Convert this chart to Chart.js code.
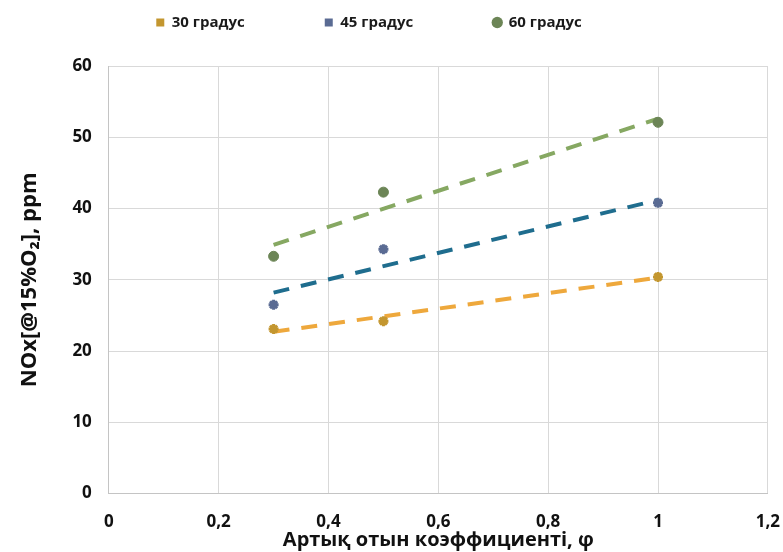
<!DOCTYPE html>
<html>
<head>
<meta charset="utf-8">
<script src="https://cdn.jsdelivr.net/npm/chart.js@4"></script>
<style>
    html, body { margin: 0; padding: 0; background: #fff; }
    #wrap { width: 783px; height: 552px; }
</style>
</head>
<body>
<div id="wrap"><canvas id="nox-plot"></canvas></div>
<script>
// values
const phi = [0.3, 0.5, 1];
const nox30 = [23.1, 24.2, 30.4];
const nox45 = [26.5, 34.3, 40.8];
const nox60 = [33.3, 42.3, 52.1];

// dashed trend lines, end points at phi = 0.3 and phi = 1
const trendX = [0.3, 1];
const trend30 = [22.7, 30.3];
const trend45 = [28.2, 41.2];
const trend60 = [34.9, 52.6];

const seriesNames = ['30 градус', '45 градус', '60 градус'];
const xTicks = [0, 0.2, 0.4, 0.6, 0.8, 1, 1.2];

function points(xs, ys) {
    let out = [];
    for (let i = 0; i < xs.length; i++) {
        out.push({ x: xs[i], y: ys[i] });
    }
    return out;
}

function commaNum(v) {
    return (Math.round(v * 10) / 10).toString().replace('.', ',');
}

const markerColors = ['#c3962f', '#5a6b93', '#6c8556'];
const lineColors = ['#eea83c', '#1f6d8e', '#86a862'];
const legendStyles = ['rect', 'rect', 'circle'];

const legendPad = 80;

// wide gaps between legend items, legend kept near the top edge
const legendPlace = {
    id: 'legendPlace',
    beforeInit(chart) {
        const fit = chart.legend.fit;
        chart.legend.fit = function () {
            fit.bind(chart.legend)();
            this.height = 62;
        };
    },
    afterLayout(chart) {
        const lg = chart.legend;
        const dx = -30;
        // only the top moves, the bottom stays so the clip box still holds the items
        lg.top += 11 - legendPad;
        lg.left += dx;
        lg.right += dx;
    }
};

const ctx = document.getElementById('nox-plot').getContext('2d');
const ch = new Chart(ctx, {
    type: 'scatter',
    data: {
        datasets: [
            {
                label: seriesNames[0],
                data: points(phi, nox30),
                pointStyle: 'star',
                radius: 5,
                borderWidth: 3,
                borderColor: markerColors[0],
                backgroundColor: markerColors[0]
            },
            {
                label: seriesNames[1],
                data: points(phi, nox45),
                pointStyle: 'star',
                radius: 5,
                borderWidth: 3,
                borderColor: markerColors[1],
                backgroundColor: markerColors[1]
            },
            {
                label: seriesNames[2],
                data: points(phi, nox60),
                pointStyle: 'circle',
                radius: 5,
                borderWidth: 1,
                borderColor: markerColors[2],
                backgroundColor: markerColors[2]
            },
            {
                label: 'trend30',
                data: points(trendX, trend30),
                showLine: true,
                pointRadius: 0,
                borderColor: lineColors[0],
                borderWidth: 4,
                borderDash: [16, 12]
            },
            {
                label: 'trend45',
                data: points(trendX, trend45),
                showLine: true,
                pointRadius: 0,
                borderColor: lineColors[1],
                borderWidth: 4,
                borderDash: [16, 12]
            },
            {
                label: 'trend60',
                data: points(trendX, trend60),
                showLine: true,
                pointRadius: 0,
                borderColor: lineColors[2],
                borderWidth: 4,
                borderDash: [16, 12]
            }
        ]
    },
    options: {
        responsive: true,
        maintainAspectRatio: false,
        animation: false,
        layout: {
            padding: { top: 4, left: 17, right: 2, bottom: 0 }
        },
        plugins: {
            tooltip: { enabled: false },
            legend: {
                position: 'top',
                labels: {
                    usePointStyle: true,
                    boxWidth: 8,
                    boxHeight: 8,
                    padding: legendPad,
                    color: '#1a1a1a',
                    font: { family: 'Open Sans', size: 15, weight: 'bold' },
                    generateLabels(chart) {
                        const items = Chart.defaults.plugins.legend.labels.generateLabels(chart);
                        return items.filter(it => it.datasetIndex < 3).map(it => {
                            it.pointStyle = legendStyles[it.datasetIndex];
                            it.fillStyle = markerColors[it.datasetIndex];
                            it.strokeStyle = markerColors[it.datasetIndex];
                            it.lineWidth = 0;
                            return it;
                        });
                    }
                }
            }
        },
        scales: {
            x: {
                type: 'linear',
                min: 0,
                max: 1.2,
                afterBuildTicks(axis) {
                    axis.ticks = xTicks.map(v => ({ value: v }));
                },
                grid: { color: '#d9d9d9', drawTicks: true, tickLength: 15, tickColor: 'rgba(0,0,0,0)' },
                border: { color: '#c4c4c4', width: 1 },
                ticks: {
                    padding: 3,
                    color: '#111',
                    font: { family: 'Open Sans', size: 17, weight: 'bold' },
                    callback: v => commaNum(v)
                },
                title: {
                    display: true,
                    text: 'Артық отын коэффициенті, φ',
                    color: '#111',
                    padding: { top: -7, bottom: 0 },
                    font: { family: 'Open Sans', size: 20, weight: 'bold' }
                }
            },
            y: {
                min: 0,
                max: 60,
                ticks: {
                    stepSize: 10,
                    padding: 17,
                    color: '#111',
                    font: { family: 'Open Sans', size: 17, weight: 'bold' }
                },
                grid: { color: '#d9d9d9', drawTicks: false },
                border: { color: '#c4c4c4', width: 1 },
                title: {
                    display: true,
                    text: 'NOx[@15%O₂], ppm',
                    color: '#111',
                    padding: { top: 0, bottom: 12 },
                    font: { family: 'Open Sans', size: 22, weight: 'bold' }
                }
            }
        }
    },
    plugins: [legendPlace]
});
</script>
</body>
</html>
